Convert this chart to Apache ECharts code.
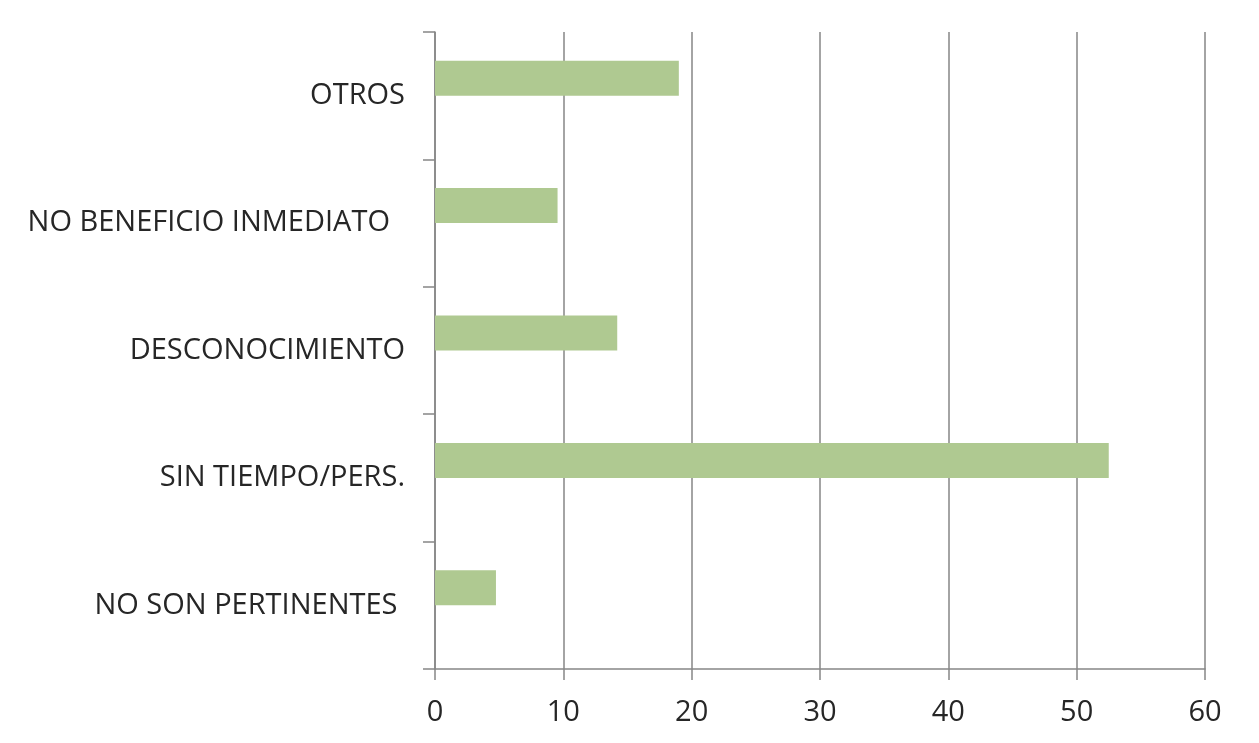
<!DOCTYPE html>
<html>
<head>
<meta charset="utf-8">
<script src="https://cdn.jsdelivr.net/npm/echarts@6/dist/echarts.min.js"></script>
<style>
  html, body { margin: 0; padding: 0; background: #fff; }
  #chart { width: 1259px; height: 743px; }
</style>
</head>
<body>
<div id="chart"></div>
<script>
// categorías de abajo hacia arriba
var categories = ['NO SON PERTINENTES ', 'SIN TIEMPO/PERS.', 'DESCONOCIMIENTO', 'NO BENEFICIO INMEDIATO  ', 'OTROS'];
var values = [4.75, 52.5, 14.2, 9.55, 19.0];
var xTicks = [0, 10, 20, 30, 40, 50, 60];

var chart = echarts.init(document.getElementById('chart'));
var axisColor = '#868686';
var option = {
    backgroundColor: '#fff',
    animation: false,
    grid: {
        left: 435,
        right: 54,
        top: 32,
        bottom: 74
    },
    xAxis: {
        type: 'value',
        min: xTicks[0],
        max: xTicks[xTicks.length - 1],
        interval: 10,
        axisLine: { show: true, lineStyle: { color: axisColor, width: 1.5 } },
        axisTick: { show: true, length: 11, lineStyle: { color: axisColor, width: 1.5 } },
        splitLine: { show: true, lineStyle: { color: axisColor, width: 1.5 } },
        axisLabel: {
            margin: 29,
            color: '#262626',
            fontSize: 29,
            fontFamily: 'Open Sans'
        }
    },
    yAxis: {
        type: 'category',
        data: categories,
        axisLine: { show: true, lineStyle: { color: axisColor, width: 1.5 } },
        axisTick: { show: true, length: 12, lineStyle: { color: axisColor, width: 1.5 } },
        splitLine: { show: false },
        axisLabel: {
            margin: 30,
            color: '#262626',
            fontSize: 29,
            fontFamily: 'Open Sans'
        }
    },
    series: [
        {
            type: 'bar',
            data: values,
            barWidth: 35,
            barGap: '0%',
            itemStyle: { color: '#afc991' }
        },
        {
            // serie vacía para desplazar la barra hacia arriba como en Excel
            type: 'bar',
            data: [],
            barWidth: 35,
            silent: true
        }
    ]
};
chart.setOption(option);
</script>
</body>
</html>
